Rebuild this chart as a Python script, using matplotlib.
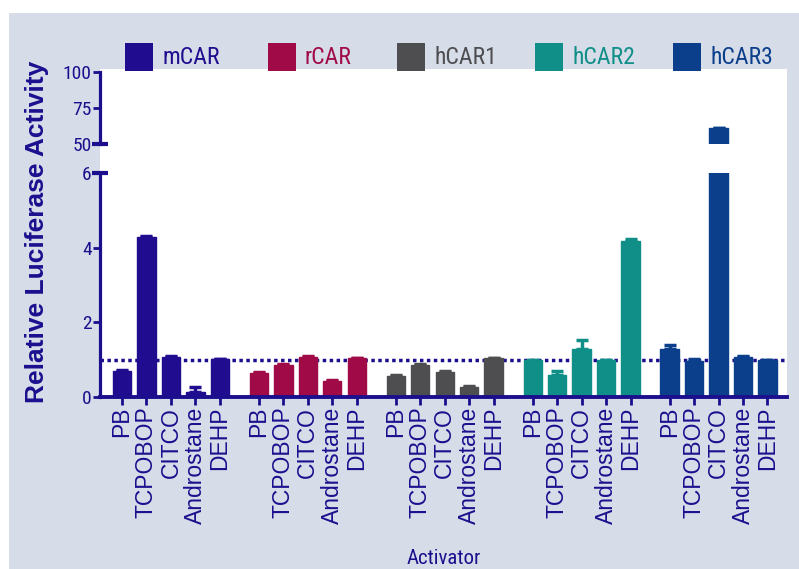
import matplotlib
matplotlib.use("Agg")
import matplotlib.pyplot as plt
import numpy as np
from matplotlib.patches import Rectangle

plt.rcParams['font.family'] = ['Roboto Condensed', 'Liberation Sans', 'DejaVu Sans']

# receptors (groups) and activators (bars per group)
receptors = ['mCAR', 'rCAR', 'hCAR1', 'hCAR2', 'hCAR3']
activators = ['PB', 'TCPOBOP', 'CITCO', 'Androstane', 'DEHP']
colors = ['#1f0c8f', '#a00a46', '#4e4e50', '#0f8f87', '#0b3f8c']

mcar = [0.70, 4.29, 1.07, 0.13, 1.02]
rcar = [0.65, 0.86, 1.07, 0.43, 1.04]
hcar1 = [0.57, 0.86, 0.67, 0.28, 1.04]
hcar2 = [1.00, 0.58, 1.29, 1.00, 4.18]
hcar3 = [1.29, 0.97, 61.0, 1.07, 1.00]

mcar_err = [0.02, 0.02, 0.04, 0.14, 0.0]
rcar_err = [0.02, 0.03, 0.02, 0.03, 0.0]
hcar1_err = [0.03, 0.03, 0.02, 0.02, 0.0]
hcar2_err = [0.0, 0.12, 0.24, 0.0, 0.04]
hcar3_err = [0.09, 0.04, 0.0, 0.03, 0.0]

values = [mcar, rcar, hcar1, hcar2, hcar3]
errors = [mcar_err, rcar_err, hcar1_err, hcar2_err, hcar3_err]

navy = '#1c0f8e'
bg = '#d6dce8'
group_step = 5.6
bar_w = 0.75

W, H = 799, 569
fig = plt.figure(figsize=(W / 100, H / 100), dpi=100, facecolor='white')

# grey panel and white plotting area behind both axes
fig.add_artist(Rectangle((9 / W, 0), 1, 1 - 13 / H, transform=fig.transFigure,
                         facecolor=bg, edgecolor='none', zorder=0))
left, right = 100 / W, 787 / W
fig.add_artist(Rectangle((left, 1 - 397 / H), right - left, (397 - 69) / H,
                         transform=fig.transFigure, facecolor='white',
                         edgecolor='none', zorder=0))

ax_lo = fig.add_axes([left, 1 - 397 / H, right - left, (397 - 173) / H])
ax_hi = fig.add_axes([left, 1 - 144 / H, right - left, (144 - 72) / H])

positions = []
for ax in (ax_lo, ax_hi):
    ax.set_facecolor('none')
    for g, (vals, errs, col) in enumerate(zip(values, errors, colors)):
        x = g * group_step + np.arange(len(activators))
        if ax is ax_lo:
            positions.extend(x)
        ax.bar(x, vals, width=bar_w, color=col, edgecolor=col, zorder=2)
        yerr = np.vstack([np.zeros(len(errs)), errs])
        ax.errorbar(x, vals, yerr=yerr, fmt='none', ecolor=col,
                    elinewidth=2.5, capsize=4, capthick=2.5, zorder=2)
    ax.set_xlim(-0.9, 4 * group_step + 4 + 0.8)
    for s in ('top', 'right'):
        ax.spines[s].set_visible(False)
    ax.spines['left'].set_color(navy)
    ax.spines['left'].set_linewidth(2.3)
    ax.tick_params(axis='y', direction='out', length=5, width=2,
                   colors=navy, labelsize=14, pad=1)

# upper segment of the broken axis
ax_hi.set_ylim(50, 100)
ax_hi.set_yticks([50, 75, 100])
ax_hi.spines['bottom'].set_visible(False)
ax_hi.set_xticks([])
ax_hi.plot([0], [50], marker='_', ms=11, mew=3, color=navy,
           transform=ax_hi.get_yaxis_transform(), clip_on=False)

# lower segment
ax_lo.set_ylim(0, 6)
ax_lo.set_yticks([0, 2, 4, 6])
ax_lo.spines['bottom'].set_color(navy)
ax_lo.spines['bottom'].set_linewidth(2.8)
ax_lo.axhline(1, color=navy, ls=(0, (1, 1)), lw=2.5, zorder=1.5)
ax_lo.plot([0], [6], marker='_', ms=11, mew=3, color=navy,
           transform=ax_lo.get_yaxis_transform(), clip_on=False)
ax_lo.set_xticks(positions)
ax_lo.set_xticklabels(activators * len(receptors), rotation=90,
                      family='Liberation Sans', fontsize=16.5, color=navy)
ax_lo.tick_params(axis='x', direction='out', length=6, width=2,
                  colors=navy, pad=1)

fig.text(37 / W, 1 - 232 / H, 'Relative Luciferase Activity', rotation=90,
         ha='center', va='center', fontsize=19, fontweight='bold',
         color=navy, family='Liberation Sans')
fig.text(444 / W, 1 - 549 / H, 'Activator', ha='center', va='top',
         fontsize=15, color=navy)

# legend row across the top
legend_x = [125, 268, 397, 535, 673]
for lx, name, col in zip(legend_x, receptors, colors):
    fig.add_artist(Rectangle((lx / W, 1 - 71 / H), 28 / W, 28 / H,
                             transform=fig.transFigure, facecolor=col,
                             edgecolor='none', zorder=3))
    fig.text((lx + 37) / W, 1 - 57 / H, name, ha='left', va='center',
             fontsize=17, color=col, zorder=3)

fig.savefig('out.png', dpi=100, facecolor=fig.get_facecolor())
